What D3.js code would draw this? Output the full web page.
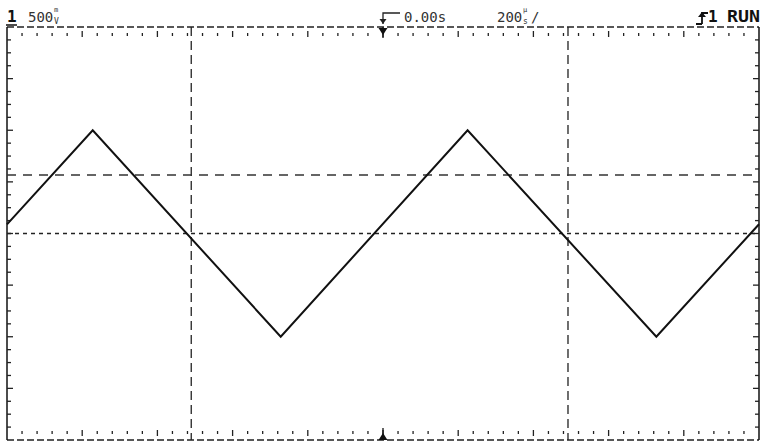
<!DOCTYPE html>
<html>
<head>
<meta charset="utf-8">
<script src="https://cdn.jsdelivr.net/npm/d3@7"></script>
<style>
  body { margin: 0; background: #fff; }
  text { font-family: "DejaVu Sans Mono", monospace; }
</style>
</head>
<body>
<script>
// trace vertices: time (us) and voltage (V)
var traceTime = [-1000, -772, -272, 225, 727, 1000];
var traceVolt = [0.088, 1.0, -1.0, 1.0, -1.0, 0.09];

// cursors
var timeCursors = [-510, 492];
var voltCursors = [0.567];

// header labels
var chLabel = "1", voltsDiv = "500", trigDelay = "0.00s", timeDiv = "200", runLabel = "RUN";

var width = 763, height = 441;

var svg = d3.select("body").append("svg")
    .attr("width", width)
    .attr("height", height);

svg.append("rect").attr("width", width).attr("height", height).attr("fill", "#fff");

var x = d3.scaleLinear().domain([-1000, 1000]).range([7, 759]);
var y = d3.scaleLinear().domain([-2, 2]).range([440, 27]);

var yTop = y(2), yBot = y(-2), xLeft = x(-1000), xRight = x(1000);

// frame
svg.append("line").attr("x1", xLeft).attr("x2", xRight).attr("y1", yTop).attr("y2", yTop)
   .attr("stroke", "#222").attr("stroke-width", 1.5).attr("stroke-dasharray", "7,3");
svg.append("line").attr("x1", xLeft).attr("x2", xRight).attr("y1", yBot).attr("y2", yBot)
   .attr("stroke", "#222").attr("stroke-width", 1.5).attr("stroke-dasharray", "7,3");
svg.append("line").attr("x1", xLeft).attr("x2", xLeft).attr("y1", yTop).attr("y2", yBot)
   .attr("stroke", "#111").attr("stroke-width", 1.5);
svg.append("line").attr("x1", xRight).attr("x2", xRight).attr("y1", yTop).attr("y2", yBot)
   .attr("stroke", "#111").attr("stroke-width", 1.5);

// horizontal ticks (0.2 div minor, 1 div major)
var tTicks = d3.range(-960, 1000, 40);
tTicks.forEach(function(t) {
    var major = Math.abs(t % 200) < 1e-6;
    svg.append("line").attr("x1", x(t)).attr("x2", x(t))
       .attr("y1", yTop + (major ? 4 : 6)).attr("y2", yTop + (major ? 10 : 9))
       .attr("stroke", "#222").attr("stroke-width", 1.3);
    svg.append("line").attr("x1", x(t)).attr("x2", x(t))
       .attr("y1", yBot - (major ? 10 : 9)).attr("y2", yBot - (major ? 4 : 6))
       .attr("stroke", "#222").attr("stroke-width", 1.3);
});

// vertical ticks (0.25 div minor, 1 div major)
var vTicks = d3.range(-1.875, 2, 0.125);
vTicks.forEach(function(v) {
    var major = Math.abs((v / 0.5) - Math.round(v / 0.5)) < 1e-6;
    var len = major ? 6 : 4;
    svg.append("line").attr("x1", xLeft).attr("x2", xLeft + len)
       .attr("y1", y(v)).attr("y2", y(v))
       .attr("stroke", "#222").attr("stroke-width", 1.3);
    svg.append("line").attr("x1", xRight - len).attr("x2", xRight)
       .attr("y1", y(v)).attr("y2", y(v))
       .attr("stroke", "#222").attr("stroke-width", 1.3);
});

// center graticule line
svg.append("line").attr("x1", xLeft).attr("x2", xRight).attr("y1", y(0)).attr("y2", y(0))
   .attr("stroke", "#222").attr("stroke-width", 1.3).attr("stroke-dasharray", "4,4");

// cursors
timeCursors.forEach(function(t) {
    svg.append("line").attr("x1", x(t)).attr("x2", x(t)).attr("y1", yTop).attr("y2", yBot)
       .attr("stroke", "#222").attr("stroke-width", 1.3).attr("stroke-dasharray", "9,5");
});
voltCursors.forEach(function(v) {
    svg.append("line").attr("x1", xLeft).attr("x2", xRight).attr("y1", y(v)).attr("y2", y(v))
       .attr("stroke", "#333").attr("stroke-width", 1.4).attr("stroke-dasharray", "9,7");
});

// trace
var pts = traceTime.map(function(t, i) { return [t, traceVolt[i]]; });
svg.append("path").datum(pts)
   .attr("d", d3.line().x(function(d) { return x(d[0]); }).y(function(d) { return y(d[1]); }))
   .attr("fill", "none").attr("stroke", "#111").attr("stroke-width", 2);

// trigger markers
var tx = x(0);
svg.append("path").attr("d", "M" + (tx - 4.5) + "," + (yTop + 1) + "L" + (tx + 4.5) + "," + (yTop + 1) + "L" + tx + "," + (yTop + 8) + "Z")
   .attr("fill", "#111");
svg.append("line").attr("x1", tx).attr("x2", tx).attr("y1", yTop).attr("y2", yTop + 11)
   .attr("stroke", "#111").attr("stroke-width", 1.3);
svg.append("path").attr("d", "M" + (tx - 4.5) + "," + yBot + "L" + (tx + 4.5) + "," + yBot + "L" + tx + "," + (yBot - 7) + "Z")
   .attr("fill", "#111");
svg.append("line").attr("x1", tx).attr("x2", tx).attr("y1", yBot).attr("y2", yBot - 12)
   .attr("stroke", "#111").attr("stroke-width", 1.3);

// header
var hy = 22;
svg.append("text").attr("x", 7).attr("y", hy).attr("font-size", 16).attr("font-weight", "bold")
   .attr("fill", "#111").text(chLabel);
svg.append("line").attr("x1", 6).attr("x2", 17).attr("y1", 25).attr("y2", 25)
   .attr("stroke", "#111").attr("stroke-width", 1.5);
svg.append("text").attr("x", 28).attr("y", hy).attr("font-size", 14).attr("fill", "#333").text(voltsDiv);
svg.append("text").attr("x", 54).attr("y", 12).attr("font-size", 7).attr("fill", "#333").text("m");
svg.append("text").attr("x", 54).attr("y", 23.5).attr("font-size", 8).attr("fill", "#333").text("V");

// delay symbol
svg.append("path").attr("d", "M" + tx + ",24L" + tx + ",13L" + (tx + 17) + ",13")
   .attr("fill", "none").attr("stroke", "#222").attr("stroke-width", 1.3);
svg.append("path").attr("d", "M" + (tx - 3.5) + ",19L" + (tx + 3.5) + ",19L" + tx + ",24Z").attr("fill", "#222");
svg.append("text").attr("x", 404).attr("y", hy).attr("font-size", 14).attr("fill", "#333").text(trigDelay);

svg.append("text").attr("x", 497).attr("y", hy).attr("font-size", 14).attr("fill", "#333").text(timeDiv);
svg.append("text").attr("x", 523).attr("y", 12).attr("font-size", 7).attr("fill", "#333").text("µ");
svg.append("text").attr("x", 523).attr("y", 23.5).attr("font-size", 8).attr("fill", "#333").text("s");
svg.append("text").attr("x", 531).attr("y", hy).attr("font-size", 14).attr("fill", "#333").text("/");

// trigger edge symbol + run
svg.append("path").attr("d", "M696,24L702,24M702,24L702,13L708,13")
   .attr("fill", "none").attr("stroke", "#111").attr("stroke-width", 1.8);
svg.append("path").attr("d", "M698,17L706,17L702,12Z").attr("fill", "#111");
svg.append("text").attr("x", 708).attr("y", hy).attr("font-size", 16).attr("font-weight", "bold")
   .attr("fill", "#111").text("1");
svg.append("text").attr("x", 727).attr("y", hy).attr("font-size", 16).attr("font-weight", "bold")
   .attr("fill", "#111").attr("textLength", 33).attr("lengthAdjust", "spacingAndGlyphs").text(runLabel);
</script>
</body>
</html>
